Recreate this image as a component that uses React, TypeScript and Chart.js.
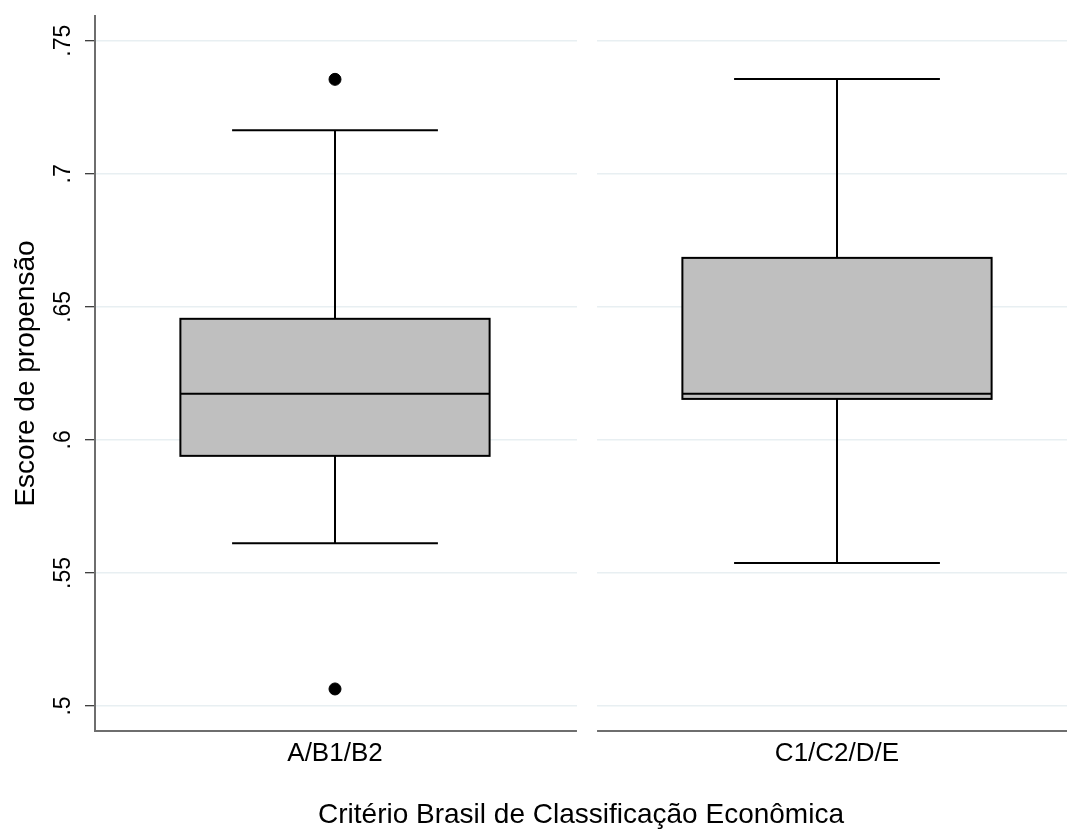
import React, { useEffect, useRef } from "react";
import { Chart, registerables } from "chart.js";

Chart.register(...registerables);

const categories = ["A/B1/B2", "C1/C2/D/E"];
const whiskerLow = [0.5612, 0.5537];
const q1 = [0.594, 0.6154];
const median = [0.6173, 0.6173];
const q3 = [0.6455, 0.6684];
const whiskerHigh = [0.7164, 0.7356];
const outliers = [[0.7355, 0.5064], []];
const yTicks = [0.5, 0.55, 0.6, 0.65, 0.7, 0.75];
const yTickLabels = [".5", ".55", ".6", ".65", ".7", ".75"];

const FONT = "'Liberation Sans', Arial, sans-serif";
const BOX_HALF = 0.308;
const CAP_HALF = 0.205;
const GAP = [0.482, 0.522];

const boxPlugin = {
  id: "boxPlugin",
  beforeDatasetsDraw(chart: any) {
    const { ctx, chartArea, scales } = chart;
    const xs = scales.x;
    const ys = scales.y;
    ctx.save();
    // panel gap
    const g0 = xs.getPixelForValue(GAP[0]);
    const g1 = xs.getPixelForValue(GAP[1]);
    ctx.fillStyle = "#ffffff";
    ctx.fillRect(g0, chartArea.top - 2, g1 - g0, chartArea.bottom - chartArea.top + 6);

    ctx.strokeStyle = "#000000";
    ctx.lineWidth = 2;
    for (let i = 0; i < categories.length; i++) {
      const cx = xs.getPixelForValue(i);
      const bl = xs.getPixelForValue(i - BOX_HALF);
      const br = xs.getPixelForValue(i + BOX_HALF);
      const cl = xs.getPixelForValue(i - CAP_HALF);
      const cr = xs.getPixelForValue(i + CAP_HALF);
      const yLo = ys.getPixelForValue(whiskerLow[i]);
      const yQ1 = ys.getPixelForValue(q1[i]);
      const yMed = ys.getPixelForValue(median[i]);
      const yQ3 = ys.getPixelForValue(q3[i]);
      const yHi = ys.getPixelForValue(whiskerHigh[i]);
      // whiskers
      ctx.beginPath();
      ctx.moveTo(cx, yQ3);
      ctx.lineTo(cx, yHi);
      ctx.moveTo(cl, yHi);
      ctx.lineTo(cr, yHi);
      ctx.moveTo(cx, yQ1);
      ctx.lineTo(cx, yLo);
      ctx.moveTo(cl, yLo);
      ctx.lineTo(cr, yLo);
      ctx.stroke();
      // box
      ctx.fillStyle = "#bfbfbf";
      ctx.fillRect(bl, yQ3, br - bl, yQ1 - yQ3);
      ctx.strokeRect(bl, yQ3, br - bl, yQ1 - yQ3);
      ctx.beginPath();
      ctx.moveTo(bl, yMed);
      ctx.lineTo(br, yMed);
      ctx.stroke();
    }
    ctx.restore();
  },
};

export default function App() {
  const ref = useRef<HTMLCanvasElement>(null);
  useEffect(() => {
    if (!ref.current) return;
    const points: { x: number; y: number }[] = [];
    outliers.forEach((arr, i) => arr.forEach((v) => points.push({ x: i, y: v })));
    const chart = new Chart(ref.current, {
      type: "scatter",
      data: {
        datasets: [
          {
            data: points,
            backgroundColor: "#000000",
            borderColor: "#000000",
            pointRadius: 6,
            pointHoverRadius: 6,
          },
        ],
      },
      options: {
        animation: false,
        responsive: false,
        maintainAspectRatio: false,
        layout: { autoPadding: false, padding: { top: 16, left: 0, right: 0, bottom: 0 } },
        plugins: { legend: { display: false }, tooltip: { enabled: false } },
        scales: {
          x: {
            type: "linear",
            min: (95 - 335) / 502,
            max: (1067 - 335) / 502,
            afterFit: (s: any) => {
              s.height = 98;
              s.paddingLeft = 0;
              s.paddingRight = 0;
            },
            afterBuildTicks: (s: any) => {
              s.ticks = categories.map((_, i) => ({ value: i }));
            },
            ticks: {
              callback: (v: any) => categories[Math.round(Number(v))],
              font: { family: FONT, size: 26 },
              color: "#000000",
              padding: 7,
              maxRotation: 0,
              minRotation: 0,
              autoSkip: false,
            },
            grid: { display: false, drawTicks: false },
            border: { display: true, color: "#6e6e6e", width: 2 },
            title: {
              display: true,
              text: "Critério Brasil de Classificação Econômica",
              font: { family: FONT, size: 28, lineHeight: 1 },
              color: "#000000",
              padding: { top: 0, bottom: 0 },
            },
          },
          y: {
            min: 0.4906,
            max: 0.7593,
            afterFit: (s: any) => {
              s.width = 95;
              s.paddingTop = 0;
              s.paddingBottom = 0;
            },
            afterBuildTicks: (s: any) => {
              s.ticks = yTicks.map((v) => ({ value: v }));
            },
            ticks: {
              callback: (v: any) => {
                const idx = yTicks.findIndex((t) => Math.abs(t - Number(v)) < 1e-6);
                return idx >= 0 ? yTickLabels[idx] : "";
              },
              font: { family: FONT, size: 23 },
              color: "#000000",
              minRotation: 90,
              maxRotation: 90,
              crossAlign: "center",
              padding: 5,
            },
            grid: {
              color: "#e8eff2",
              lineWidth: 1.5,
              tickColor: "#000000",
              tickLength: 10,
              tickWidth: 1,
            },
            border: { display: true, color: "#6e6e6e", width: 2 },
            title: {
              display: true,
              text: "Escore de propensão",
              font: { family: FONT, size: 28 },
              color: "#000000",
              padding: { top: 9, bottom: 0 },
            },
          },
        },
      },
      plugins: [boxPlugin],
    });
    return () => chart.destroy();
  }, []);
  return (
    <div style={{ position: "absolute", left: 0, top: 0, width: 1067, height: 829, background: "#ffffff", overflow: "hidden" }}>
      <canvas ref={ref} width={1067} height={829} style={{ display: "block" }} />
    </div>
  );
}
